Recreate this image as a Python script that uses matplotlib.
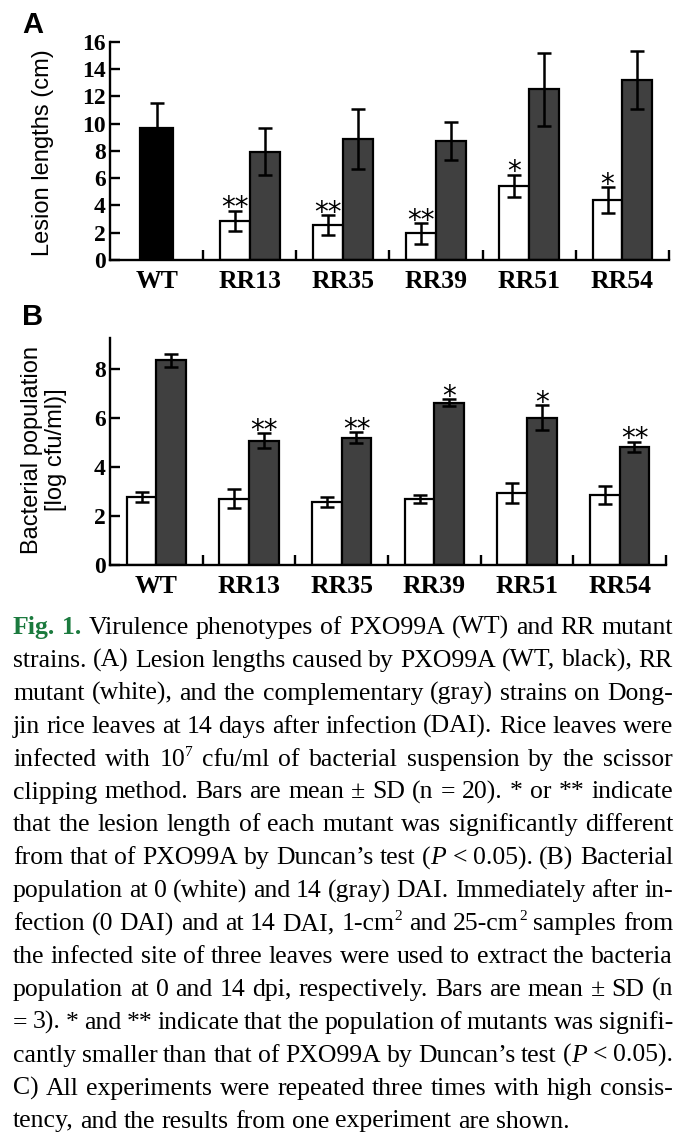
import re
import numpy as np
import matplotlib
matplotlib.use("Agg")
import matplotlib.pyplot as plt
from matplotlib.ticker import FixedLocator

W, H = 695, 1144

groups = ["WT", "RR13", "RR35", "RR39", "RR51", "RR54"]

# panel A: lesion length (cm); WT alone, then mutant (white) / complemented (gray)
lesion_wt = 9.7
lesion_wt_sd = 1.8
lesion_mut = [2.85, 2.55, 1.95, 5.45, 4.4]
lesion_mut_sd = [0.75, 0.75, 0.75, 0.8, 0.95]
lesion_comp = [7.95, 8.9, 8.75, 12.5, 13.2]
lesion_comp_sd = [1.75, 2.2, 1.4, 2.7, 2.1]
lesion_marks = ["**", "**", "**", "*", "*"]

# panel B: bacterial population [log cfu/ml] at 0 DAI (white) and 14 DAI (gray)
pop_0dai = [2.78, 2.70, 2.57, 2.70, 2.93, 2.86]
pop_0dai_sd = [0.21, 0.39, 0.20, 0.15, 0.41, 0.36]
pop_14dai = [8.37, 5.08, 5.20, 6.64, 6.02, 4.83]
pop_14dai_sd = [0.27, 0.30, 0.22, 0.13, 0.52, 0.21]
pop_marks = ["", "**", "**", "*", "*", "**"]

cap_lines = [
    "#Fig. #1. Virulence phenotypes of PXO99A (WT) and RR mutant",
    "strains. (A) Lesion lengths caused by PXO99A (WT, black), RR",
    "mutant (white), and the complementary (gray) strains on Dong-",
    "jin rice leaves at 14 days after infection (DAI). Rice leaves were",
    "infected with 10^7 cfu/ml of bacterial suspension by the scissor",
    "clipping method. Bars are mean \u00b1 SD (n = 20). * or ** indicate",
    "that the lesion length of each mutant was significantly different",
    "from that of PXO99A by Duncan\u2019s test (_P_ < 0.05). (B) Bacterial",
    "population at 0 (white) and 14 (gray) DAI. Immediately after in-",
    "fection (0 DAI) and at 14 DAI, 1-cm^2 and 25-cm^2 samples from",
    "the infected site of three leaves were used to extract the bacteria",
    "population at 0 and 14 dpi, respectively. Bars are mean \u00b1 SD (n",
    "= 3). * and ** indicate that the population of mutants was signifi-",
    "cantly smaller than that of PXO99A by Duncan\u2019s test (_P_ < 0.05).",
    "C) All experiments were repeated three times with high consis-",
    "tency, and the results from one experiment are shown.",
]

GRAY = "#404040"
BW = 0.32
SERIF = "Liberation Serif"
SANS = "Liberation Sans"


def style_axis(ax, ymax, yticks):
    ax.set_xlim(-0.5, 5.5)
    ax.set_ylim(0, ymax)
    for s in ("top", "right"):
        ax.spines[s].set_visible(False)
    for s in ("left", "bottom"):
        ax.spines[s].set_linewidth(1.7)
    ax.set_yticks(yticks)
    ax.tick_params(axis="y", direction="in", length=7, width=1.7, pad=3)
    ax.set_xticks(range(len(groups)))
    ax.set_xticklabels(groups)
    ax.tick_params(axis="x", which="major", length=0, pad=7)
    ax.xaxis.set_minor_locator(FixedLocator(np.arange(0.5, 6, 1)))
    ax.tick_params(axis="x", which="minor", direction="in", length=7, width=1.7)
    for lab in ax.get_yticklabels():
        lab.set_fontfamily(SERIF)
        lab.set_fontweight("bold")
        lab.set_fontsize(17)
    for lab in ax.get_xticklabels():
        lab.set_fontfamily(SERIF)
        lab.set_fontweight("bold")
        lab.set_fontsize(18.5)


def stars(ax, xs, tops, marks):
    for x, y, m in zip(xs, tops, marks):
        if m:
            ax.annotate(m, (x, y), xytext=(0, -4), textcoords="offset points",
                        ha="center", va="baseline", fontsize=20, family="DejaVu Sans")


err_kw = dict(elinewidth=1.8, capthick=1.8, ecolor="black")

fig = plt.figure(figsize=(W / 100, H / 100), dpi=100)

# ---- panel A
axA = fig.add_axes([110 / W, 1 - 260 / H, 559 / W, 218.3 / H])
xm = np.arange(1, 6)
axA.bar(0, lesion_wt, BW + 0.03, color="black", edgecolor="black", linewidth=1.6,
        yerr=lesion_wt_sd, capsize=4.7, error_kw=err_kw, zorder=2)
axA.bar(xm - BW / 2, lesion_mut, BW, color="white", edgecolor="black", linewidth=1.6,
        yerr=lesion_mut_sd, capsize=4.7, error_kw=err_kw, zorder=2)
axA.bar(xm + BW / 2, lesion_comp, BW, color=GRAY, edgecolor="black", linewidth=1.6,
        yerr=lesion_comp_sd, capsize=4.7, error_kw=err_kw, zorder=2)
stars(axA, xm - BW / 2, np.add(lesion_mut, lesion_mut_sd), lesion_marks)
style_axis(axA, 16, range(0, 17, 2))

# ---- panel B
axB = fig.add_axes([110 / W, 1 - 565 / H, 556 / W, 227.5 / H])
xb = np.arange(len(groups))
axB.bar(xb - BW / 2, pop_0dai, BW, color="white", edgecolor="black", linewidth=1.6,
        yerr=pop_0dai_sd, capsize=4.7, error_kw=err_kw, zorder=2)
axB.bar(xb + BW / 2, pop_14dai, BW, color=GRAY, edgecolor="black", linewidth=1.6,
        yerr=pop_14dai_sd, capsize=4.7, error_kw=err_kw, zorder=2)
stars(axB, xb + BW / 2, np.add(pop_14dai, pop_14dai_sd), pop_marks)
style_axis(axB, 9.3, range(0, 9, 2))

fig.text(22 / W, 1 - 33 / H, "A", family=SANS, weight="bold", fontsize=21, va="baseline")
fig.text(22 / W, 1 - 325 / H, "B", family=SANS, weight="bold", fontsize=21, va="baseline")
fig.text(43 / W, 1 - 153 / H, "Lesion lengths (cm)", family=SANS, fontsize=17,
         rotation=90, ha="center", va="center")
fig.text(44 / W, 1 - 450 / H, "Bacterial population\n[log cfu/ml)]", family=SANS,
         fontsize=17, rotation=90, ha="center", va="center", multialignment="center",
         linespacing=1.1)


# ---- caption, justified word by word
def parse(word):
    if word.startswith("#"):
        return [(word[1:], "fig")]
    out = []
    for tok in re.split(r"(\^\w|_[^_]+_)", word):
        if not tok:
            continue
        if tok.startswith("^"):
            out.append((tok[1:], "sup"))
        elif len(tok) > 2 and tok.startswith("_") and tok.endswith("_"):
            out.append((tok[1:-1], "it"))
        else:
            out.append((tok, "rm"))
    return out


renderer = fig.canvas.get_renderer()
size = 18.5
em = size * 100 / 72
left, right = 13, 673
base0, pitch = 634, 32.9

for li, line in enumerate(cap_lines):
    yb = base0 + li * pitch
    words = []
    for w in line.split(" "):
        segs = []
        for txt, st in parse(w):
            kw = dict(family=SERIF, fontsize=size, va="baseline", ha="left")
            dy = 0
            if st == "fig":
                kw.update(weight="bold", color="#1b7a3e")
            elif st == "it":
                kw.update(style="italic")
            elif st == "sup":
                kw.update(fontsize=size * 0.6)
                dy = 0.38 * em
            t = fig.text(0, 0, txt, **kw)
            wpx = t.get_window_extent(renderer=renderer).width
            segs.append((t, wpx, dy))
        words.append(segs)
    widths = [sum(s[1] for s in segs) for segs in words]
    if li == len(cap_lines) - 1 or len(words) == 1:
        gap = 0.25 * em
    else:
        gap = max((right - left - sum(widths)) / (len(words) - 1), 0.12 * em)
    x = left
    for segs, wd in zip(words, widths):
        xs = x
        for t, wpx, dy in segs:
            t.set_position((xs / W, 1 - (yb - dy) / H))
            xs += wpx
        x += wd + gap

fig.savefig("out.png", dpi=100)
